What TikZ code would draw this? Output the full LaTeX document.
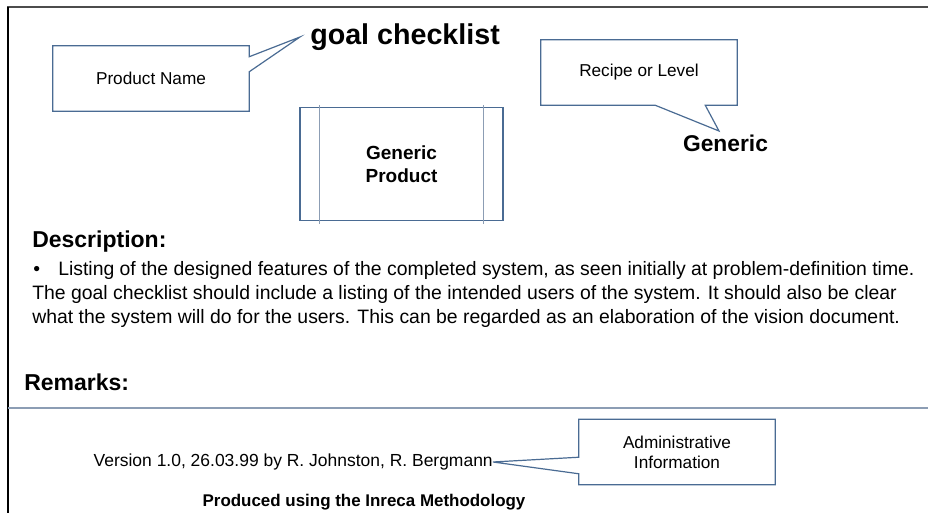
\documentclass[tikz,border=0pt]{standalone}
\usepackage{fontspec}
\setmainfont{Liberation Sans}
\usetikzlibrary{calc}
\definecolor{boxblue}{HTML}{4A6B93}
\definecolor{rulegrey}{HTML}{8C9DB4}
\tikzset{
  calloutbox/.style={minimum width=147pt,minimum height=48.75pt,inner sep=0pt,align=center,font=\fontsize{12.9}{15}\selectfont},
  prodbox/.style={draw=boxblue,line width=0.9pt,minimum width=152.25pt,minimum height=84.75pt,align=center,font=\fontsize{14.25}{17.25}\selectfont\bfseries},
  boxline/.style={draw=boxblue,line width=0.9pt,line join=miter},
  thinrule/.style={draw=rulegrey,line width=0.9pt},
  headtext/.style={anchor=base west,inner sep=0pt,font=\fontsize{17.25}{20}\selectfont\bfseries},
  bodytext/.style={anchor=base west,inner sep=0pt,font=\fontsize{14.55}{18}\selectfont}
}
\begin{document}
\begin{tikzpicture}[x=0.75pt,y=-0.75pt]
\useasboundingbox (0,0) rectangle (928,513);
\draw [black!70,line width=1.5pt] (7,7.5) -- (928,7.5);
\draw [black,line width=1.5pt] (8,7) -- (8,513);

\node [calloutbox] (pname) at (151,78.5) {Product Name};
\node [anchor=base west,inner sep=0pt,font=\fontsize{21.5}{26}\selectfont\bfseries] (title) at (310,45) {goal checklist};
\coordinate (pnametip) at (300,37);
\draw [boxline] (pname.north west) -- (pname.north east) -- ($(pname.north east)+(0,11)$) -- (pnametip) -- ($(pname.north east)+(0,26)$) -- (pname.south east) -- (pname.south west) -- cycle;

\node [prodbox] (gprod) at (401.5,164) {Generic\\Product};
\draw [thinrule] ($(gprod.north west)+(20,-2)$) -- ($(gprod.south west)+(20,3)$);
\draw [thinrule] ($(gprod.north east)+(-20,-2)$) -- ($(gprod.south east)+(-20,3)$);

\node [calloutbox] (recipe) at (639,72.5) {Recipe or Level};
\node [anchor=base,inner sep=0pt,font=\fontsize{17.1}{20}\selectfont\bfseries] (level) at (725.5,152) {Generic};
\coordinate (recipetip) at (719,131);
\draw [boxline] (recipe.north west) -- (recipe.north east) -- (recipe.south east) -- ($(recipe.south east)+(-32,0)$) -- (recipetip) -- ($(recipe.south east)+(-82,0)$) -- (recipe.south west) -- cycle;

\node [headtext] (desc) at (32,248) {Description:};
\node [bodytext] (bullet) at (33,276) {•};
\node [bodytext] (line1) at (58,276) {Listing of the designed features of the completed system, as seen initially at problem-definition time.};
\node [bodytext] (line2) at (32,300) {The goal checklist should include a listing of the intended users of the system. It should also be clear};
\node [bodytext] (line3) at (32,324) {what the system will do for the users. This can be regarded as an elaboration of the vision document.};

\node [headtext] (remarks) at (24,390) {Remarks:};
\draw [thinrule] (8,408) -- (928,408);

\node [anchor=east,inner sep=0pt,font=\fontsize{13.1}{15}\selectfont] (version) at (493,462) {Version 1.0, 26.03.99 by R. Johnston, R. Bergmann};
\node [calloutbox] (admin) at (677,452) {Administrative\\Information};
\draw [boxline] (admin.north west) -- (admin.north east) -- (admin.south east) -- (admin.south west) -- ($(admin.south west)+(0,-11)$) -- (version.east) -- ($(admin.north west)+(0,38)$) -- cycle;
\node [font=\fontsize{12.7}{15}\selectfont\bfseries] (produced) at (364,502) {Produced using the Inreca Methodology};
\end{tikzpicture}
\end{document}
